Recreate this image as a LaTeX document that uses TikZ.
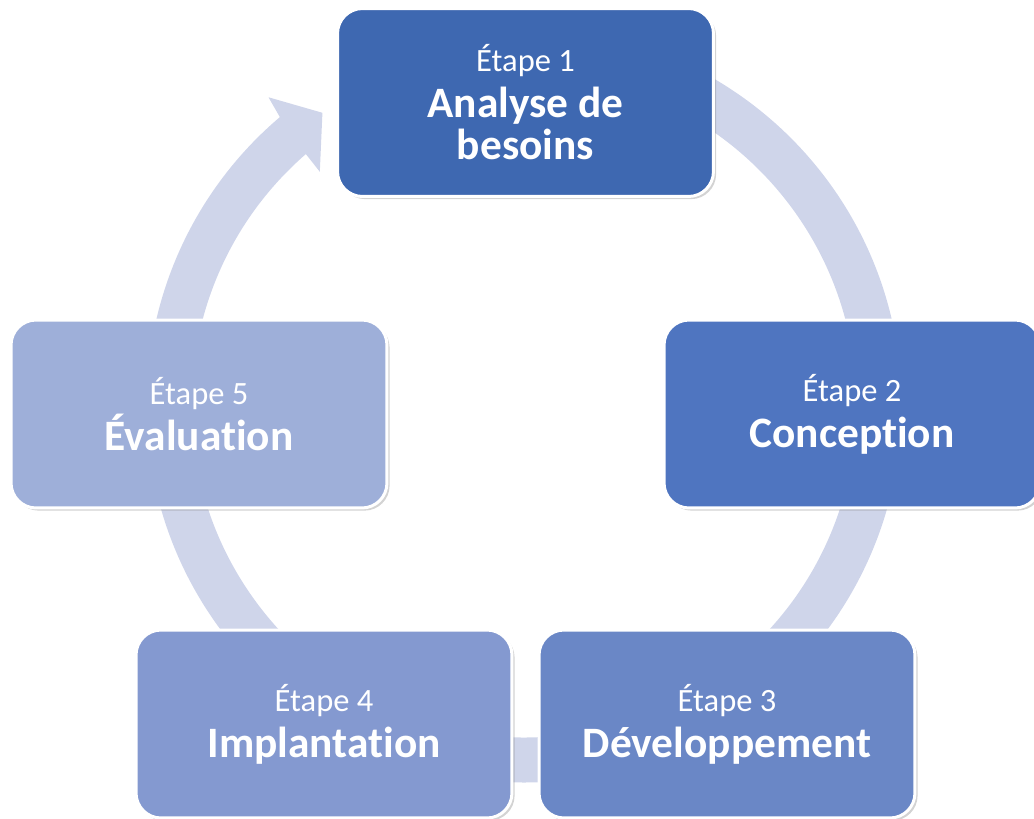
\documentclass[tikz,border=0pt]{standalone}
\usepackage{fontspec}
\setmainfont{Carlito}[Ligatures=NoCommon]
\usetikzlibrary{shadows}
\definecolor{etapeA}{RGB}{62,104,177}
\definecolor{etapeB}{RGB}{79,117,192}
\definecolor{etapeC}{RGB}{106,135,198}
\definecolor{etapeD}{RGB}{132,153,208}
\definecolor{etapeE}{RGB}{158,175,217}
\definecolor{anneau}{RGB}{207,213,234}
\newcommand{\etape}{\fontsize{18.5}{24}\selectfont}
\begin{document}
\begin{tikzpicture}[x=0.02cm,y=-0.02cm,
    stepbox/.style={draw=white,line width=1.7pt,rounded corners=0.5cm,
        minimum width=7.52cm,minimum height=3.76cm,text=white,align=center,
        font=\fontsize{24.7}{24}\selectfont\bfseries,
        drop shadow={shadow xshift=1.5pt,shadow yshift=-1.5pt,opacity=0.35}}]
    \useasboundingbox (0,0) rectangle (1034,818);
    \coordinate (C) at (524,405);
    % anneau avec la fleche vers l'etape 1
    \fill[anneau] ([shift={(-90:377.5)}]C) arc[start angle=-90,end angle=229.7,radius=377.5]
        -- ([shift={(230.3:400)}]C) -- ([shift={(235.4:355)}]C) -- ([shift={(228.8:310)}]C)
        -- ([shift={(229:332.5)}]C) arc[start angle=229,end angle=-90,radius=332.5] -- cycle;
    \node[stepbox,fill=etapeA] (E1) at (525.5,102.5) {{\etape\mdseries Étape 1}\\[2pt]Analyse de\\besoins};
    \node[stepbox,fill=etapeB] (E2) at (852,414) {{\etape\mdseries Étape 2}\\[2pt]Conception};
    \node[stepbox,fill=etapeC] (E3) at (727,724) {{\etape\mdseries Étape 3}\\[2pt]Développement};
    \node[stepbox,fill=etapeD] (E4) at (324,724) {{\etape\mdseries Étape 4}\\[2pt]Implantation};
    \node[stepbox,fill=etapeE] (E5) at (199,414) {{\etape\mdseries Étape 5}\\[2pt]Évaluation};
\end{tikzpicture}
\end{document}
